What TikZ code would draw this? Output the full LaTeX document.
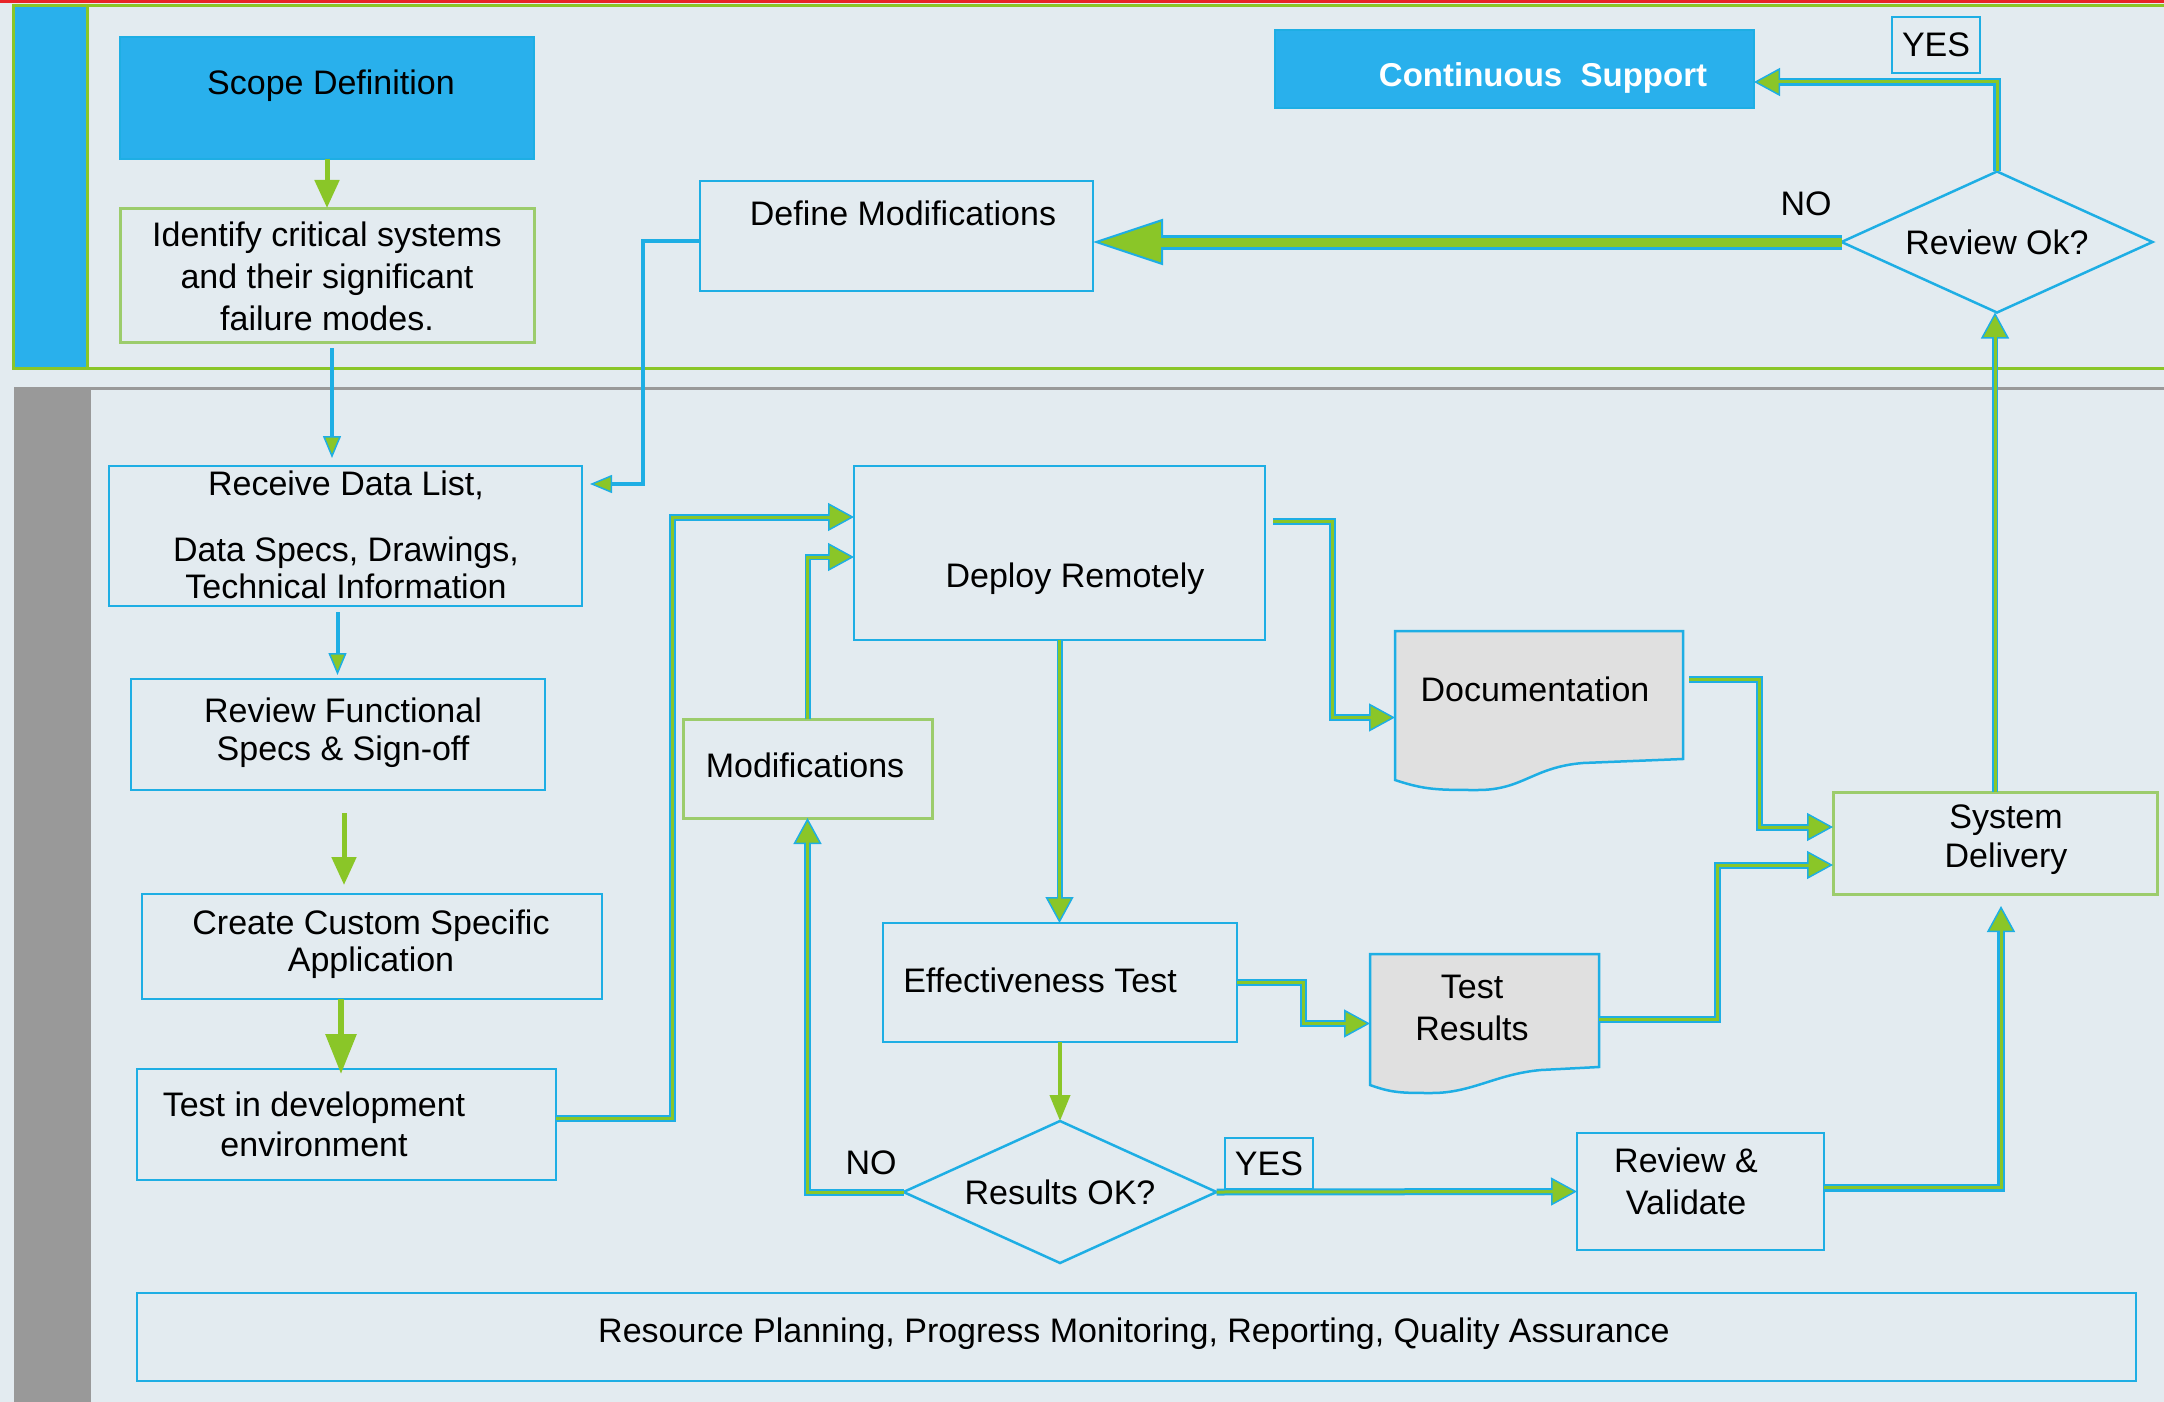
\documentclass[tikz,border=0pt]{standalone}
\usepackage{fontspec}
\setmainfont{Liberation Sans}
\usetikzlibrary{arrows.meta,calc,shapes.geometric}

\definecolor{paper}{RGB}{227,235,240}
\definecolor{skyfill}{RGB}{41,176,236}
\definecolor{skyline}{RGB}{30,174,228}
\definecolor{leaf}{RGB}{138,198,40}
\definecolor{leafbox}{RGB}{156,204,108}
\definecolor{lanegray}{RGB}{153,153,153}
\definecolor{docgray}{RGB}{224,224,224}
\definecolor{topred}{RGB}{232,36,40}

\begin{document}
\begin{tikzpicture}[x=1pt,y=-1pt,
  every node/.style={inner sep=0pt, outer sep=0pt},
  lbl/.style={font=\fontsize{34}{40}\selectfont, align=center, text=black},
  box/.style={draw=skyline, line width=2.5pt, anchor=north west},
  gbox/.style={draw=leafbox, line width=3pt, anchor=north west},
  decide/.style={diamond, draw=skyline, line width=2.5pt, aspect=2.2,
    font=\fontsize{34}{40}\selectfont},
  tag/.style={draw=skyline, line width=2.5pt, anchor=north west,
    font=\fontsize{34}{40}\selectfont},
  gline/.style={draw=leaf, line width=5pt, -{Triangle[length=28pt,width=24pt]}},
  bline/.style={draw=skyline, line width=4pt,
    -{Triangle[length=22pt,width=18pt,fill=leaf,line width=1.5pt]}},
  duo/.style={draw=skyline, line width=7pt,
    postaction={draw=leaf, line width=3pt, arrows=-, shorten >=24pt},
    -{Triangle[length=26pt,width=28pt,fill=leaf,line width=1.5pt]}},
  bigduo/.style={draw=skyline, line width=15pt,
    postaction={draw=leaf, line width=9pt, arrows=-, shorten >=66pt},
    -{Triangle[length=70pt,width=46pt,fill=leaf,line width=2pt]}},
]
% page and lanes
\fill[paper] (0,0) rectangle (2164,1402);
\useasboundingbox (0,0) rectangle (2164,1402);
\fill[topred] (0,0) rectangle (2164,3);
\fill[skyfill] (13,6) rectangle (87,368);
\draw[leaf, line width=3pt] (2170,6) -- (13,6) -- (13,368) -- (2170,368);
\draw[leaf, line width=3pt] (87,6) -- (87,368);
\draw[lanegray, line width=3pt] (14,388) -- (2170,388);
\fill[lanegray] (14,388) rectangle (91,1410);

% boxes
\node[box, fill=skyfill, minimum width=414pt, minimum height=122pt] (scope) at (120,37) {};
\node[gbox, minimum width=414pt, minimum height=134pt] (ident) at (120,208) {};
\node[box, minimum width=393pt, minimum height=110pt] (defm) at (700,181) {};
\node[box, fill=skyfill, minimum width=479pt, minimum height=78pt] (cont) at (1275,30) {};
\node[tag, minimum width=88pt, minimum height=56pt] (yes1) at (1892,17) {YES};
\node[decide, minimum width=311pt, minimum height=141pt] (review) at (1997,242) {Review Ok?};
\node[box, minimum width=473pt, minimum height=140pt] (rec) at (109,466) {};
\node[box, minimum width=414pt, minimum height=111pt] (revf) at (131,679) {};
\node[box, minimum width=460pt, minimum height=105pt] (create) at (142,894) {};
\node[box, minimum width=419pt, minimum height=111pt] (testdev) at (137,1069) {};
\node[box, minimum width=411pt, minimum height=174pt] (deploy) at (854,466) {};
\node[gbox, minimum width=249pt, minimum height=99pt] (mods) at (683,719) {};
\node[box, minimum width=354pt, minimum height=119pt] (effect) at (883,923) {};
\node[minimum width=288pt, minimum height=149pt, anchor=north west] (docu) at (1395,631) {};
\node[minimum width=229pt, minimum height=131pt, anchor=north west] (tres) at (1370,954) {};
\node[gbox, minimum width=324pt, minimum height=102pt] (sysd) at (1833,792) {};
\node[decide, minimum width=313pt, minimum height=142pt] (resok) at (1060,1192) {Results OK?};
\node[tag, minimum width=88pt, minimum height=51pt] (yes2) at (1225,1138) {YES};
\node[box, minimum width=247pt, minimum height=117pt] (revval) at (1577,1133) {};
\node[box, minimum width=1999pt, minimum height=88pt] (plan) at (137,1293) {};

% document shapes
\draw[skyline, line width=2.5pt, fill=docgray]
  (docu.north west) -- (docu.north east) -- ++(0,128) -- ++(-100,4)
  .. controls +(-50,4) and +(45,0) .. ($(docu.north west)+(83,159)$)
  .. controls +(-40,0) and +(30,10) .. ($(docu.north west)+(0,149)$) -- cycle;
\draw[skyline, line width=2.5pt, fill=docgray]
  (tres.north west) -- (tres.north east) -- ++(0,113) -- ++(-58,3)
  .. controls +(-45,4) and +(40,0) .. ($(tres.north west)+(62,139)$)
  .. controls +(-30,0) and +(22,8) .. ($(tres.north west)+(0,131)$) -- cycle;

% texts
\node[lbl] (scope-t) at (331,86) {Scope Definition};
\node[lbl, font=\fontsize{34}{42}\selectfont] (ident-t) at (327,276)
  {Identify critical systems\\and their significant\\failure modes.};
\node[lbl] (defm-t) at (903,213) {Define Modifications};
\node[lbl, text=white, font=\fontsize{33}{40}\selectfont\bfseries] (cont-t) at (1543,78)
  {Continuous\ \ Support};
\node[lbl] (no1) at (1806,204) {NO};
\node[lbl, font=\fontsize{34}{37}\selectfont] (rec-t) at (346,535)
  {Receive Data List,\\[29pt]Data Specs, Drawings,\\Technical Information};
\node[lbl, font=\fontsize{34}{38}\selectfont] (revf-t) at (343,733)
  {Review Functional\\Specs \& Sign-off};
\node[lbl, font=\fontsize{34}{37}\selectfont] (create-t) at (371,944)
  {Create Custom Specific\\Application};
\node[lbl] (testdev-t) at (314,1124) {Test in development\\environment};
\node[lbl] (deploy-t) at (1075,579) {Deploy Remotely};
\node[lbl] (mods-t) at (805,765) {Modifications};
\node[lbl] (docu-t) at (1535,689) {Documentation};
\node[lbl, font=\fontsize{34}{39}\selectfont] (sysd-t) at (2006,840) {System\\Delivery};
\node[lbl] (effect-t) at (1040,980) {Effectiveness Test};
\node[lbl, font=\fontsize{34}{42}\selectfont] (tres-t) at (1472,1008) {Test\\Results};
\node[lbl] (no2) at (871,1163) {NO};
\node[lbl, font=\fontsize{34}{42}\selectfont] (revval-t) at (1686,1181) {Review \&\\Validate};
\node[lbl] (plan-t) at (1134,1334)
  {Resource Planning, Progress Monitoring, Reporting, Quality Assurance};

% connectors
\draw[gline] (scope.south) -- (ident.north);
\draw[bline] ($(ident.south)+(5,6)$) -- ($(ident.south |- rec.north)+(5,-8)$);
\draw[bline] ($(defm.west)+(0,5)$) -- ++(-57,0) |- ($(rec.east)+(8,-52)$);
\draw[bline] ($(rec.south)+(-8,6)$) -- ($(rec.south |- revf.north)+(-8,-4)$);
\draw[gline] ($(revf.south)+(6,23)$) -- ($(revf.south |- create.north)+(6,-9)$);
\draw[gline, line width=6pt, -{Triangle[length=40pt,width=30pt]}]
  ($(create.south)+(-31,0)$) -- ($(create.south |- testdev.north)+(-31,5)$);
\draw[duo] ($(testdev.east)+(0,-6)$) -- ++(116,0) |- ($(deploy.west)+(0,-36)$);
\draw[duo, line width=6pt] (mods.north) |- ($(deploy.west)+(0,4)$);
\draw[duo] (resok.west) -| (mods.south);
\draw[duo, line width=6pt] (deploy.south) -- (deploy.south |- effect.north);
\draw[duo] ($(deploy.east)+(8,-32)$) -- ++(59,0) |- ($(docu.west)+(0,12)$);
\draw[duo] ($(docu.east)+(6,-26)$) -- ++(70,0) |- ($(sysd.west)+(0,-16)$);
\draw[duo] (effect.east) -- ++(66,0) |- ($(tres.west)+(0,4)$);
\draw[duo] (tres.east) -- ++(118,0) |- ($(sysd.west)+(0,22)$);
\draw[gline, line width=4pt, -{Triangle[length=26pt,width=20pt]}] (effect.south) -- (resok.north);
\draw[duo] (resok.east) -- (revval.west);
\draw[duo, line width=8pt] ($(revval.east)+(0,-4)$) -| ($(sysd.south)+(6,12)$);
\draw[duo, line width=6pt] (sysd.north) -- (sysd.north |- review.south);
\draw[bigduo] (review.west) -- (review.west -| defm.east);
\draw[duo, line width=8pt] (review.north) |- ($(cont.east)+(0,13)$);
\end{tikzpicture}
\end{document}
